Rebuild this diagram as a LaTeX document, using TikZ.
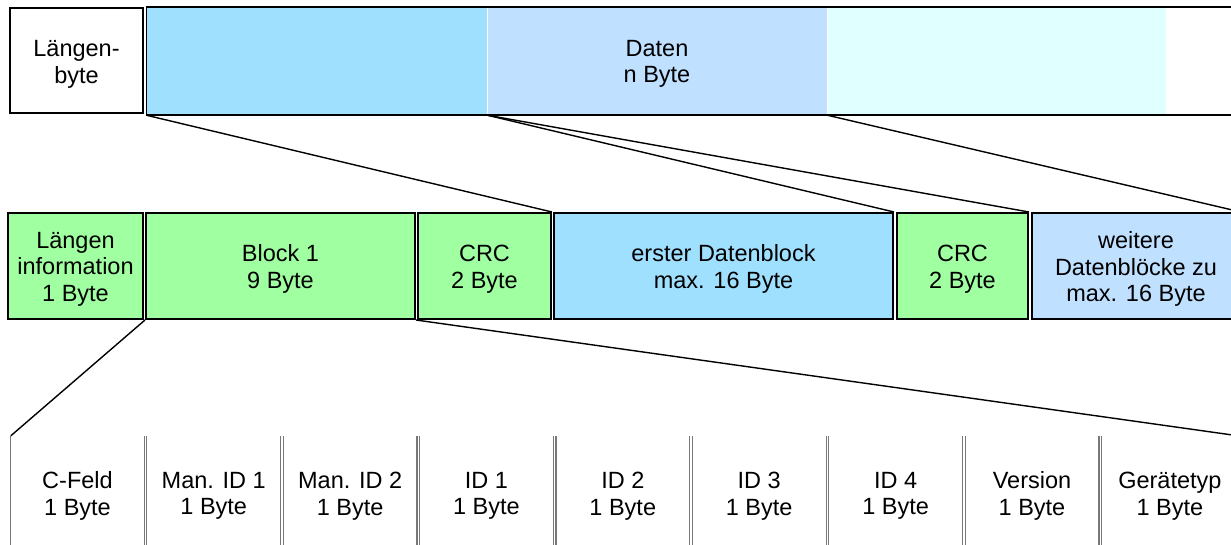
\documentclass[tikz,border=0pt]{standalone}
\usepackage{fontspec}
\setmainfont{Liberation Sans}
\definecolor{grn}{RGB}{160,255,160}
\definecolor{blu}{RGB}{160,224,255}
\definecolor{lblu}{RGB}{192,224,255}
\definecolor{cyn}{RGB}{224,255,255}
\definecolor{edge}{RGB}{120,120,120}
\begin{document}
\begin{tikzpicture}[x=1pt,y=-1pt,
  txt/.style={font=\fontsize{23.5}{26.5}\selectfont, align=center, inner sep=0pt},
  T/.style={label={[txt, yshift=-3pt]center:{#1}}},
  thickbox/.style={rectangle, draw=black, line width=2pt, inner sep=0pt},
  seg/.style={rectangle, draw=none, inner sep=0pt},
  field/.style={rectangle, draw=none, inner sep=0pt, minimum height=114pt},
  conn/.style={draw=black, line width=1.4pt},
  fedge/.style={draw=edge, line width=1.2pt}]
\useasboundingbox (0,0) rectangle (1231,544);
% top row
\node[thickbox, minimum width=133pt, minimum height=105pt,
      label={[txt, yshift=-4pt]center:{Längen-\\byte}}] (lb) at (76.5,60.5) {};
\node[seg, fill=blu, minimum width=340pt, minimum height=108pt] (d1) at (316.5,61) {};
\node[seg, fill=lblu, minimum width=339pt, minimum height=108pt, T={Daten\\n Byte}] (d2) at (657,61) {};
\node[seg, fill=cyn, minimum width=338pt, minimum height=108pt] (d3) at (996.5,61) {};
\node[seg, fill=white, minimum width=74pt, minimum height=108pt] (d4) at (1203,61) {};
\draw[line width=1.5pt] (d1.north west) rectangle (d4.south east);
% middle row
\node[thickbox, fill=grn, minimum width=135pt, minimum height=106pt, T={Längen\\information\\1 Byte}] (li) at (75.5,266) {};
\node[thickbox, fill=grn, minimum width=269pt, minimum height=106pt, T={Block 1\\9 Byte}] (b1) at (280.5,266) {};
\node[thickbox, fill=grn, minimum width=133pt, minimum height=106pt, T={CRC\\2 Byte}] (crc1) at (484.5,266) {};
\node[thickbox, fill=blu, minimum width=339pt, minimum height=106pt, T={erster Datenblock\\max. 16 Byte}] (ed) at (723.5,266) {};
\node[thickbox, fill=grn, minimum width=131pt, minimum height=106pt, T={CRC\\2 Byte}] (crc2) at (962.5,266) {};
\node[thickbox, fill=lblu, minimum width=208pt, minimum height=106pt, T={weitere\\Datenblöcke zu\\max. 16 Byte}] (wd) at (1136,266) {};
% bottom row
\node[field, minimum width=133pt, T={C-Feld\\1 Byte}] (f1) at (77.5,493) {};
\node[field, minimum width=133.5pt, T={Man. ID 1\\1 Byte}] (f2) at (213.75,493) {};
\node[field, minimum width=133.3pt, T={Man. ID 2\\1 Byte}] (f3) at (350.15,493) {};
\node[field, minimum width=133.3pt, T={ID 1\\1 Byte}] (f4) at (486.45,493) {};
\node[field, minimum width=133.4pt, T={ID 2\\1 Byte}] (f5) at (622.8,493) {};
\node[field, minimum width=133.4pt, T={ID 3\\1 Byte}] (f6) at (759.2,493) {};
\node[field, minimum width=133.4pt, T={ID 4\\1 Byte}] (f7) at (895.6,493) {};
\node[field, minimum width=133.4pt, T={Version\\1 Byte}] (f8) at (1032,493) {};
\node[field, minimum width=136.3pt, T={Gerätetyp\\1 Byte}] (f9) at (1169.85,493) {};
\foreach \f in {f1,f2,f3,f4,f5,f6,f7,f8,f9}{
  \draw[fedge] (\f.north west) -- (\f.south west) (\f.north east) -- (\f.south east);
}
% connectors
\draw[conn] (d1.south west) -- (crc1.north east);
\draw[conn] (d2.south west) -- (ed.north east);
\draw[conn] (d2.south west) -- (crc2.north east);
\draw[conn] (d3.south west) -- (wd.north east);
\draw[conn] (b1.south west) -- (f1.north west);
\draw[conn] (b1.south east) -- (f9.north east);
\end{tikzpicture}
\end{document}
